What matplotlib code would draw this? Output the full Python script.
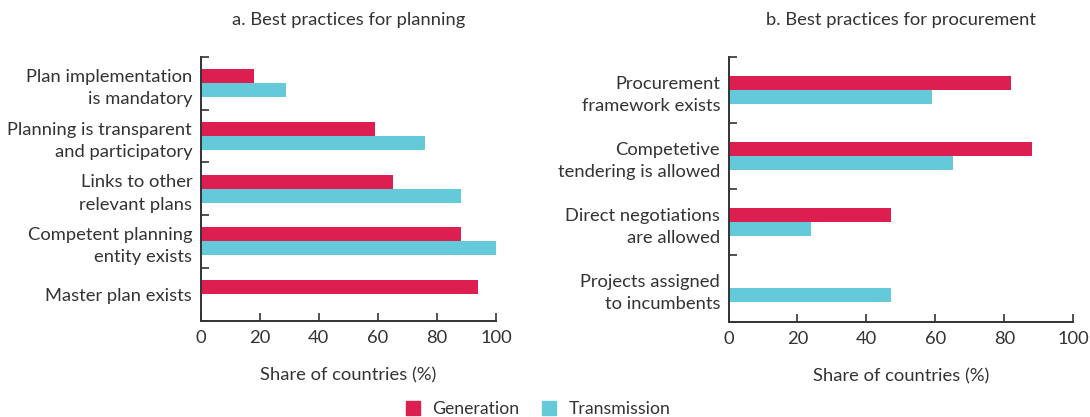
import matplotlib
matplotlib.use("Agg")
import matplotlib.pyplot as plt
from matplotlib.patches import Patch
import numpy as np

plt.rcParams['font.family'] = ['Lato', 'DejaVu Sans']

# Data
plan_categories = ["Plan implementation\nis mandatory",
                   "Planning is transparent\nand participatory",
                   "Links to other\nrelevant plans",
                   "Competent planning\nentity exists",
                   "Master plan exists"]
plan_generation = [18, 59, 65, 88, 94]
plan_transmission = [29, 76, 88, 100, 0]

proc_categories = ["Procurement\nframework exists",
                   "Competetive\ntendering is allowed",
                   "Direct negotiations\nare allowed",
                   "Projects assigned\nto incumbents"]
proc_generation = [82, 88, 47, 0]
proc_transmission = [59, 65, 24, 47]

series_names = ["Generation", "Transmission"]
x_ticks = [0, 20, 40, 60, 80, 100]

RED = "#DC1F50"
CYAN = "#64C9D8"
TXT = "#333333"
AX = "#333333"
FS = 13.2

W, H = 1090, 417
fig = plt.figure(figsize=(W / 100, H / 100), dpi=100)

def px_axes(x0, x1, y0, y1):
    return fig.add_axes([x0 / W, 1 - y1 / H, (x1 - x0) / W, (y1 - y0) / H])

ax1 = px_axes(200.5, 496, 57, 320.5)
ax2 = px_axes(728.5, 1073.3, 57, 321.5)

def draw(ax, cats, gen, trans, bar_h, title):
    n = len(cats)
    y = np.arange(n)
    ax.barh(y - bar_h / 2, gen, height=bar_h, color=RED, label=series_names[0])
    ax.barh(y + bar_h / 2, trans, height=bar_h, color=CYAN, label=series_names[1])
    ax.set_ylim(n - 0.5, -0.5)
    ax.set_xlim(0, 100)
    ax.set_xticks(x_ticks)
    ax.set_yticks(y)
    ax.set_yticklabels(cats, fontsize=FS, color=TXT, ha='right', linespacing=1.5)
    ax.set_yticks(np.arange(n + 1) - 0.5, minor=True)
    ax.tick_params(axis='y', which='major', length=0, pad=6)
    ax.tick_params(axis='y', which='minor', direction='in', length=6, width=1.2, color=AX)
    ax.tick_params(axis='x', direction='in', length=6, width=1.2, color=AX,
                   labelsize=FS, labelcolor=TXT, pad=7)
    for s in ['top', 'right']:
        ax.spines[s].set_visible(False)
    for s in ['left', 'bottom']:
        ax.spines[s].set_color(AX)
        ax.spines[s].set_linewidth(1.4)
    ax.set_xlabel("Share of countries (%)", fontsize=FS, color=TXT, labelpad=15)
    ax.set_title(title, fontsize=FS, color=TXT, pad=23)

draw(ax1, plan_categories, plan_generation, plan_transmission, 0.265, "a. Best practices for planning")
draw(ax2, proc_categories, proc_generation, proc_transmission, 0.21, "b. Best practices for procurement")

handles = [Patch(color=RED), Patch(color=CYAN)]
fig.legend(handles, series_names, loc='center', bbox_to_anchor=(538 / W, 1 - 409 / H),
           ncol=2, frameon=False, fontsize=12.7, handlelength=0.8, handleheight=0.8,
           handletextpad=0.7, columnspacing=1.3, labelcolor=TXT)

fig.savefig("out.png", dpi=100)
